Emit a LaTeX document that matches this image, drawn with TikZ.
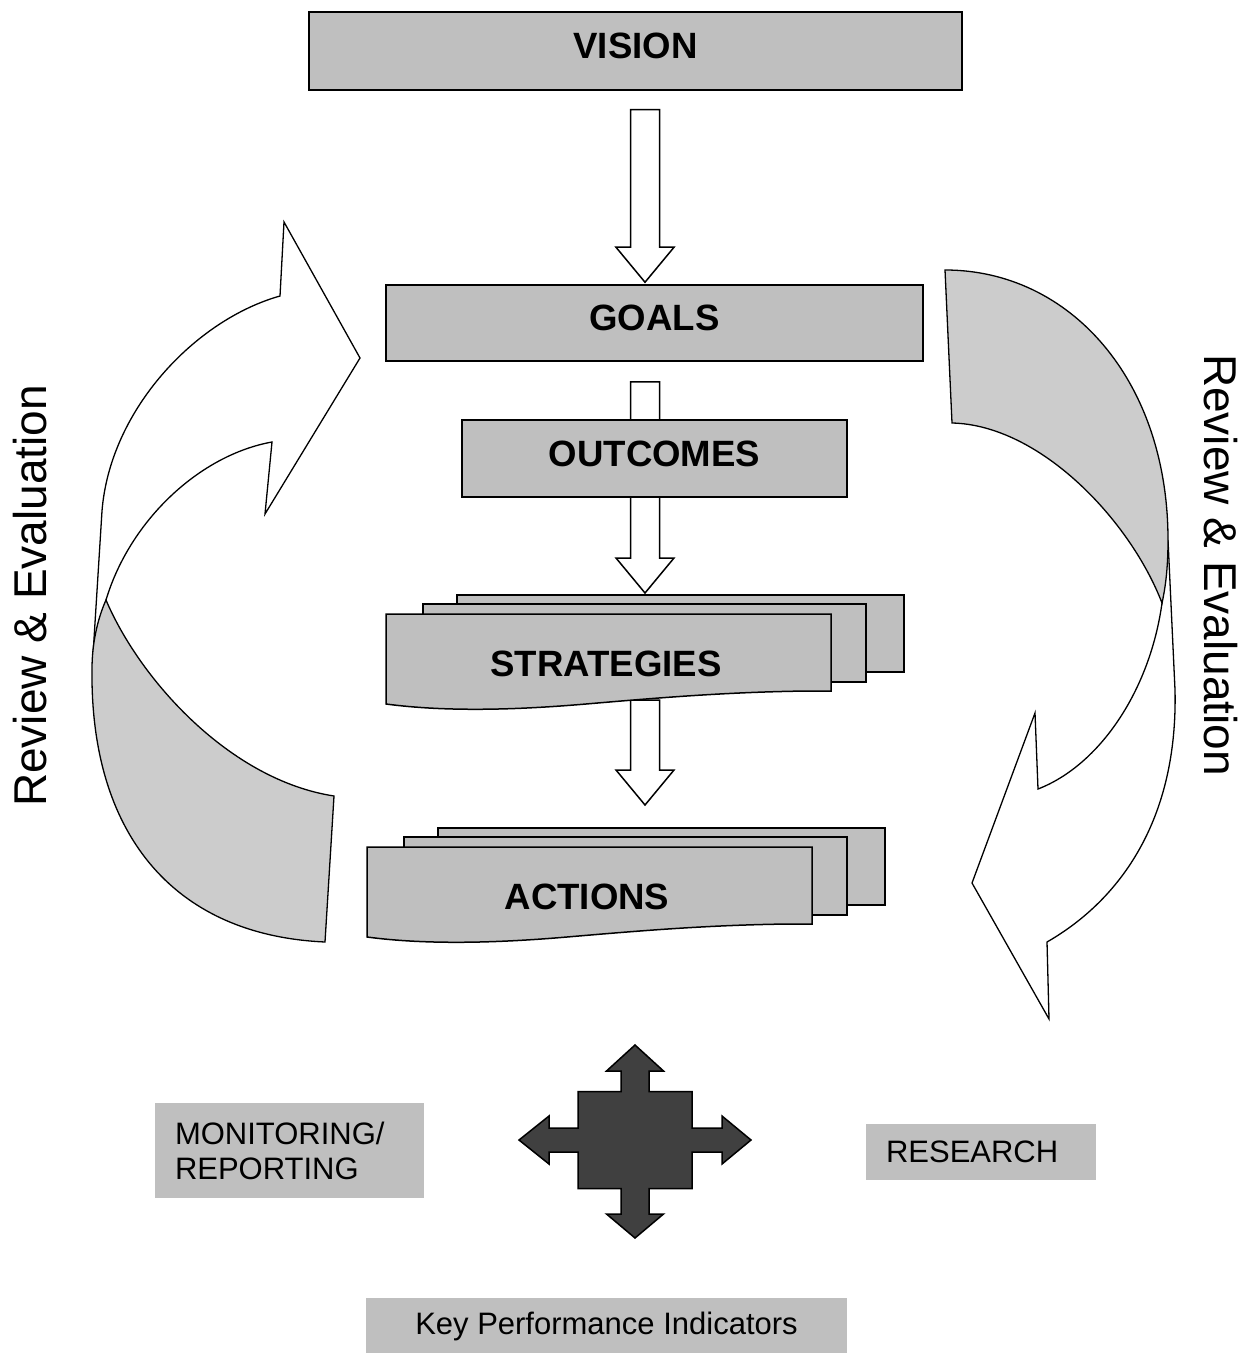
\documentclass[tikz,border=0pt]{standalone}
\usepackage{fontspec}
\setmainfont{Liberation Sans}
\usetikzlibrary{calc,backgrounds}

% stack of three sheets, front one with a wavy lower edge
\newcommand{\docstack}[4]{% name, left x, top y, text
	\draw[sheet] (#2+71,#3-19) rectangle (#2+518,#3+58);
	\draw[sheet] (#2+37,#3-10) rectangle (#2+480,#3+68);
	\draw[sheet] (#2,#3) -- (#2+445,#3) -- (#2+445,#3+77) -- (#2+422,#3+77)
		.. controls (#2+340,#3+78) and (#2+270,#3+84) .. (#2+200,#3+90)
		.. controls (#2+130,#3+96) and (#2+60,#3+98) .. (#2,#3+90) -- cycle;
	\node[stage text] (#1) at (#2+220,#3+50) {#4};
}

% hollow block arrow pointing down
\newcommand{\blockdown}[2]{% tail, tip
	\draw[hollow arrow] ($(#1)+(-14.5,0)$) -- ($(#2)+(-14.5,-35)$) -- ($(#2)+(-29,-35)$) -- (#2)
		-- ($(#2)+(29,-35)$) -- ($(#2)+(14.5,-35)$) -- ($(#1)+(14.5,0)$) -- cycle;
}

\begin{document}
\begin{tikzpicture}
			[x=0.5pt,y=-0.5pt,line join=miter,
			%Styles
			stage text/.style={font=\bfseries\fontsize{18.3}{22}\selectfont},
			stage box/.style={stage text,draw,fill=boxgray,line width=0.75pt,text depth=5pt},
			sheet/.style={draw,fill=boxgray,line width=0.75pt},
			hollow arrow/.style={draw,fill=white,line width=0.75pt},
			ribbon front/.style={draw,fill=white,line width=0.65pt},
			ribbon back/.style={draw,fill=ribbongray,line width=0.65pt},
			note box/.style={fill=boxgray,inner xsep=10pt,font=\fontsize{15.5}{17.5}\selectfont},
			review text/.style={font=\fontsize{23}{26}\selectfont}
			]
			
			%Colors
			\colorlet{boxgray}{black!25}
			\colorlet{ribbongray}{black!20}
			\colorlet{hubgray}{black!75}
			
			\useasboundingbox (0,0) rectangle (1254,1353);
			
			%The graphic
			\node[stage box,minimum width=326.5pt,minimum height=39pt] (vision) at (635.5,51) {VISION};
			\node[stage box,minimum width=268.5pt,minimum height=38pt] (goals) at (654.5,323) {GOALS};
			\node[stage box,minimum width=192.5pt,minimum height=38.5pt] (outcomes) at (654.5,458.5) {OUTCOMES};
			
			\docstack{strategies}{386}{614}{STRATEGIES}
			\docstack{actions}{367}{847}{ACTIONS}
			
			\coordinate (spine) at (645,0);
			\begin{scope}[on background layer]
				\blockdown{$(spine |- vision.south)+(0,19)$}{$(spine |- goals.north)+(0,-2)$}
				\blockdown{$(spine |- goals.south)+(0,20)$}{$(spine |- strategies)+(0,-71)$}
				\blockdown{$(spine |- strategies)+(0,36)$}{$(spine |- actions)+(0,-92)$}
			\end{scope}
			
			% left loop
			\draw[ribbon front] (93,655) -- (102,511) .. controls (110,410) and (195,320) .. (280,296)
				-- (284,222) -- (360,358) -- (265,514) -- (272,442)
				.. controls (200,455) and (130,520) .. (106,600) -- cycle;
			\draw[ribbon back] (106,600) .. controls (97,620) and (92,645) .. (92,669)
				.. controls (90,830) and (170,935) .. (325,942) -- (334,796)
				.. controls (230,780) and (140,680) .. (106,600) -- cycle;
			
			% right loop
			\draw[ribbon front] (1168,540) -- (1175,690) .. controls (1178,820) and (1120,900) .. (1047,942)
				-- (1049,1019) -- (972,883) -- (1035,713) -- (1038,789)
				.. controls (1100,765) and (1150,690) .. (1162,603) -- cycle;
			\draw[ribbon back] (945,270) .. controls (1070,270) and (1168,380) .. (1168,540)
				.. controls (1168,565) and (1166,585) .. (1162,603)
				.. controls (1130,520) and (1040,425) .. (952,423) -- cycle;
			
			\node[review text,rotate=90] (review left) at (30,596) {Review \& Evaluation};
			\node[review text,rotate=-90] (review right) at (1221,565) {Review \& Evaluation};
			
			% four way arrow
			\coordinate (hub) at (635,1140);
			\begin{scope}[shift={(hub)}]
				\draw[fill=hubgray,line width=0.75pt] (0,-95) -- (28.5,-69) -- (14,-69) -- (14,-48.5) -- (57,-48.5)
					-- (57,-12) -- (87,-12) -- (87,-24) -- (116,0) -- (87,24) -- (87,12) -- (57,12)
					-- (57,48.5) -- (14,48.5) -- (14,74) -- (28.5,74) -- (0,98) -- (-28.5,74) -- (-14,74)
					-- (-14,48.5) -- (-57,48.5) -- (-57,12) -- (-86,12) -- (-86,24) -- (-116,0) -- (-86,-24)
					-- (-86,-12) -- (-57,-12) -- (-57,-48.5) -- (-14,-48.5) -- (-14,-69) -- (-28.5,-69) -- cycle;
			\end{scope}
			
			\node[note box,text width=114.5pt,align=left,minimum height=47.5pt] (monitoring) at (289.5,1150.5) {MONITORING/\\REPORTING};
			\node[note box,text width=95pt,align=left,minimum height=28pt] (research) at (981,1152) {RESEARCH};
			\node[note box,minimum width=240.5pt,minimum height=28pt] (kpi) at (606.5,1326) {Key Performance Indicators};
		\end{tikzpicture}
\end{document}
